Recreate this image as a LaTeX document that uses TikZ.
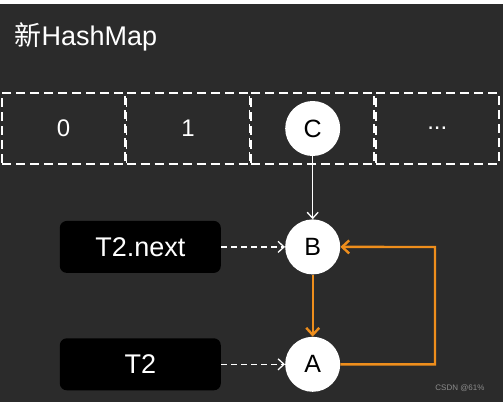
\documentclass[tikz,border=0pt]{standalone}
\usepackage{fontspec}
\setmainfont{Liberation Sans}
\newfontfamily\cjk{Noto Sans CJK SC}
\usetikzlibrary{arrows.meta,positioning}
\definecolor{board}{HTML}{2B2B2B}
\definecolor{linkorange}{HTML}{EE8E1C}
\definecolor{markgrey}{HTML}{8C8C8C}

\begin{document}
\begin{tikzpicture}[x=1pt, y=-1pt,
  node distance=64pt,
  cell/.style={draw=white, line width=1.6pt, dash pattern=on 9pt off 5pt, minimum width=123pt, minimum height=71pt, inner sep=0pt, text=white, font=\fontsize{24}{28}\selectfont},
  entry/.style={circle, fill=white, minimum size=55pt, inner sep=0pt, font=\fontsize{25}{28}\selectfont},
  ref/.style={fill=black, rounded corners=7pt, minimum width=161pt, minimum height=52pt, text=white, font=\fontsize{27}{30}\selectfont},
  link/.style={-{Straight Barb[length=6pt,width=11pt]}, white, line width=1.3pt},
  ptr/.style={-{Straight Barb[length=6pt,width=11pt]}, white, line width=1.3pt, dash pattern=on 6pt off 4pt},
  relink/.style={-{Straight Barb[length=7pt,width=13pt]}, linkorange, line width=2.4pt}
]
\useasboundingbox (0,0) rectangle (504,402);
\fill[white] (0,0) rectangle (504,402);
\fill[board] (0,4) rectangle (503,402);

\node[anchor=base west, text=white, font=\fontsize{27}{30}\selectfont] (title) at (11,45) {{\cjk 新}HashMap};

% buckets
\node[cell] (c0) at (63.5,128.5) {0};
\node[cell, right=0pt of c0] (c1) {1};
\node[cell, right=0pt of c1] (c2) {};
\node[cell, right=0pt of c2] (c3) {...};

% entries
\node[entry] (C) at (c2) {C};
\node[entry, below=63pt of C] (B) {B};
\node[entry, below=62pt of B] (A) {A};

\node[ref, left=of B] (next) {T2.next};
\node[ref, left=of A] (T2) {T2};

\draw[link] (C) -- (B);
\draw[ptr] (next) -- (B);
\draw[ptr] (T2) -- (A);
\draw[relink] (B) -- (A);
\coordinate (turn) at (435,247);
\draw[relink] (A.east) -| (turn) -- (B.east);

\node[text=markgrey, font=\fontsize{8}{9}\selectfont, anchor=east] (mark) at (488,388) {CSDN @61\%};
\end{tikzpicture}
\end{document}
